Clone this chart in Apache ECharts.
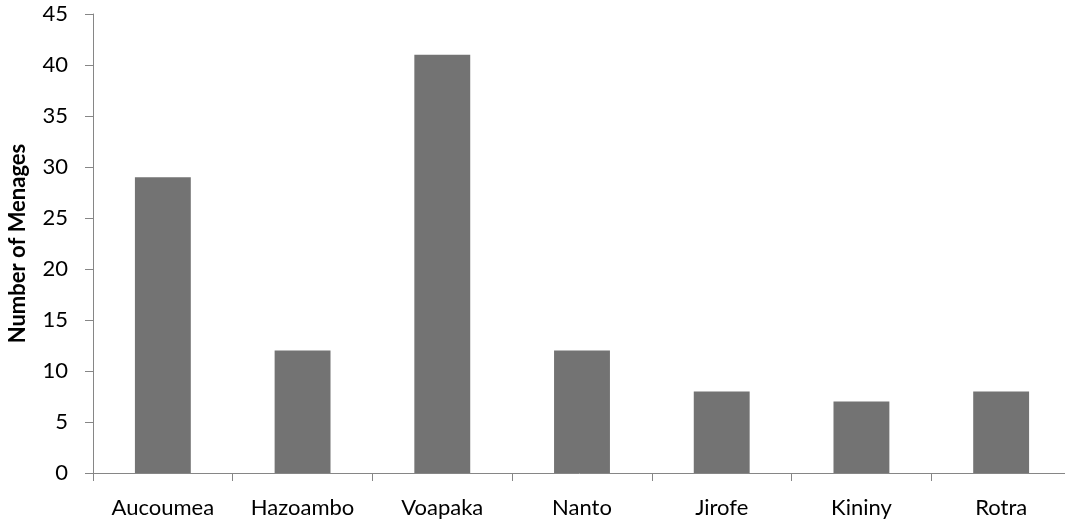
<!DOCTYPE html>
<html>
<head>
<meta charset="utf-8">
<script src="https://cdn.jsdelivr.net/npm/echarts@6/dist/echarts.min.js"></script>
<style>
  html, body { margin: 0; padding: 0; background: #fff; }
  #main { width: 1065px; height: 526px; }
</style>
</head>
<body>
<div id="main"></div>
<script>
var categories = ['Aucoumea', 'Hazoambo', 'Voapaka', 'Nanto', 'Jirofe', 'Kininy', 'Rotra']
var menages = [29, 12, 41, 12, 8, 7, 8]
var yTicks = { min: 0, max: 45, interval: 5 }

var myChart = echarts.init(document.getElementById('main'))
var font = 'Lato, "Open Sans", sans-serif'
var axisGray = '#868686'

myChart.setOption({
  animation: false,
  grid: {
    left: 93,
    right: -6,
    top: 14,
    bottom: 53,
    containLabel: false,
    outerBoundsMode: 'none'
  },
  xAxis: {
    type: 'category',
    data: categories,
    axisLine: { lineStyle: { color: axisGray, width: 1 } },
    axisTick: { show: true, length: 8, alignWithLabel: false, lineStyle: { color: axisGray } },
    axisLabel: { color: '#000', fontSize: 22, fontFamily: font, margin: 24, interval: 0 }
  },
  yAxis: {
    type: 'value',
    min: yTicks.min,
    max: yTicks.max,
    interval: yTicks.interval,
    name: 'Number of Menages',
    nameLocation: 'middle',
    nameGap: 64,
    nameTextStyle: { color: '#000', fontSize: 22, fontWeight: 'bold', fontFamily: font },
    axisLine: { show: true, lineStyle: { color: axisGray, width: 1 } },
    axisTick: { show: true, length: 8, lineStyle: { color: axisGray } },
    splitLine: { show: false },
    axisLabel: { color: '#000', fontSize: 22, fontFamily: font, margin: 25 }
  },
  series: [
    {
      type: 'bar',
      data: menages,
      barWidth: '40%',
      itemStyle: { color: '#737373' }
    }
  ]
})
</script>
</body>
</html>
